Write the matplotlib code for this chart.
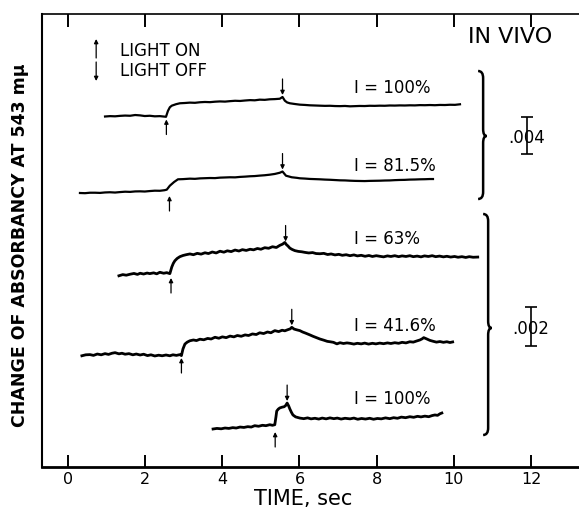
import numpy as np
import matplotlib
matplotlib.use("Agg")
import matplotlib.pyplot as plt
from matplotlib.path import Path
from matplotlib.patches import PathPatch

plt.rcParams["font.family"] = ["DejaVu Sans"]

# time (sec) and absorbance change (units of 1e-3)
t1 = [0.96, 1.09, 1.22, 1.35, 1.48, 1.61, 1.74, 1.87, 1.99, 2.12,
      2.25, 2.38, 2.54, 2.59, 2.64, 2.69, 2.80, 2.90, 3.03, 3.16,
      3.29, 3.42, 3.55, 3.68, 3.81, 3.94, 4.07, 4.20, 4.33, 4.46,
      4.59, 4.72, 4.84, 4.97, 5.10, 5.23, 5.36, 5.49, 5.56, 5.62,
      5.68, 5.75, 5.88, 6.01, 6.14, 6.27, 6.40, 6.53, 6.66, 6.79,
      6.92, 7.05, 7.18, 7.31, 7.44, 7.56, 7.69, 7.82, 7.95, 8.08,
      8.21, 8.34, 8.47, 8.60, 8.73, 8.86, 8.99, 9.12, 9.25, 9.38,
      9.51, 9.64, 9.77, 9.90, 10.03, 10.16]
a1 = [0.00, 0.04, 0.02, 0.07, 0.10, 0.08, 0.16, 0.12, 0.05, 0.08,
      0.02, 0.04, -0.03, 0.60, 1.00, 1.17, 1.33, 1.43, 1.46, 1.50,
      1.48, 1.54, 1.57, 1.55, 1.60, 1.63, 1.61, 1.66, 1.70, 1.68,
      1.73, 1.77, 1.75, 1.82, 1.80, 1.86, 1.88, 1.92, 2.11, 1.71,
      1.52, 1.43, 1.35, 1.28, 1.25, 1.21, 1.19, 1.17, 1.15, 1.16,
      1.13, 1.12, 1.14, 1.10, 1.12, 1.14, 1.13, 1.16, 1.15, 1.17,
      1.16, 1.19, 1.18, 1.20, 1.19, 1.21, 1.20, 1.23, 1.22, 1.24,
      1.22, 1.25, 1.24, 1.27, 1.26, 1.32]

t2 = [0.31, 0.44, 0.57, 0.70, 0.83, 0.96, 1.09, 1.22, 1.35, 1.48,
      1.61, 1.74, 1.87, 1.99, 2.12, 2.25, 2.38, 2.50, 2.56, 2.64,
      2.75, 2.85, 2.98, 3.16, 3.29, 3.42, 3.55, 3.68, 3.81, 3.94,
      4.07, 4.20, 4.33, 4.46, 4.59, 4.72, 4.84, 4.97, 5.10, 5.23,
      5.36, 5.49, 5.56, 5.65, 5.80, 5.93, 6.01, 6.14, 6.27, 6.40,
      6.53, 6.66, 6.79, 6.92, 7.05, 7.18, 7.31, 7.44, 7.56, 7.69,
      7.82, 7.95, 8.08, 8.21, 8.34, 8.47, 8.60, 8.73, 8.86, 8.99,
      9.12, 9.25, 9.38, 9.46]
a2 = [0.00, -0.02, 0.03, 0.03, 0.01, 0.06, 0.08, 0.05, 0.10, 0.14,
      0.12, 0.17, 0.18, 0.16, 0.21, 0.25, 0.24, 0.30, 0.36, 0.79,
      1.19, 1.48, 1.50, 1.55, 1.53, 1.58, 1.60, 1.62, 1.61, 1.66,
      1.68, 1.70, 1.69, 1.74, 1.77, 1.81, 1.83, 1.88, 1.92, 1.98,
      2.06, 2.19, 2.32, 1.87, 1.70, 1.64, 1.59, 1.56, 1.52, 1.50,
      1.48, 1.45, 1.43, 1.40, 1.37, 1.36, 1.33, 1.31, 1.30, 1.29,
      1.31, 1.32, 1.33, 1.35, 1.36, 1.39, 1.41, 1.42, 1.45, 1.46,
      1.48, 1.49, 1.51, 1.51]

t3 = [1.32, 1.42, 1.51, 1.61, 1.71, 1.80, 1.87, 1.96, 2.05, 2.12,
      2.22, 2.30, 2.38, 2.48, 2.56, 2.64, 2.69, 2.73, 2.77, 2.83,
      2.90, 2.98, 3.06, 3.16, 3.25, 3.35, 3.45, 3.55, 3.64, 3.74,
      3.84, 3.94, 4.04, 4.13, 4.23, 4.33, 4.43, 4.52, 4.62, 4.72,
      4.81, 4.91, 5.00, 5.10, 5.20, 5.30, 5.40, 5.49, 5.56, 5.62,
      5.66, 5.70, 5.75, 5.81, 5.88, 5.97, 6.06, 6.14, 6.24, 6.34,
      6.43, 6.53, 6.63, 6.73, 6.82, 6.92, 7.02, 7.11, 7.21, 7.31,
      7.41, 7.50, 7.60, 7.70, 7.80, 7.89, 7.99, 8.08, 8.18, 8.28,
      8.37, 8.47, 8.57, 8.66, 8.76, 8.86, 8.95, 9.05, 9.15, 9.24,
      9.34, 9.44, 9.53, 9.63, 9.73, 9.82, 9.92, 10.02, 10.11, 10.21,
      10.31, 10.40, 10.50, 10.62]
a3 = [-0.04, 0.02, -0.01, 0.04, 0.08, 0.03, 0.09, 0.05, 0.10, 0.07,
      0.11, 0.06, 0.14, 0.09, 0.12, 0.07, 0.41, 0.60, 0.73, 0.85,
      0.94, 1.00, 1.04, 1.08, 1.04, 1.11, 1.07, 1.14, 1.10, 1.18,
      1.13, 1.22, 1.17, 1.24, 1.20, 1.28, 1.23, 1.30, 1.26, 1.32,
      1.29, 1.36, 1.32, 1.40, 1.37, 1.45, 1.41, 1.52, 1.58, 1.67,
      1.56, 1.49, 1.38, 1.31, 1.25, 1.21, 1.19, 1.16, 1.13, 1.15,
      1.10, 1.09, 1.11, 1.05, 1.08, 1.03, 1.06, 1.01, 1.04, 0.99,
      1.03, 0.98, 1.01, 0.96, 1.00, 0.95, 0.99, 0.96, 0.93, 0.98,
      0.95, 0.99, 0.94, 0.98, 0.95, 0.99, 0.94, 0.97, 0.93, 0.98,
      0.95, 0.99, 0.94, 0.97, 0.93, 0.96, 0.92, 0.95, 0.91, 0.94,
      0.90, 0.94, 0.91, 0.92]

t4 = [0.36, 0.46, 0.57, 0.66, 0.76, 0.86, 0.96, 1.05, 1.14, 1.22,
      1.32, 1.40, 1.48, 1.58, 1.68, 1.77, 1.87, 1.96, 2.06, 2.15,
      2.25, 2.35, 2.44, 2.54, 2.64, 2.72, 2.81, 2.90, 2.94, 2.98,
      3.03, 3.09, 3.16, 3.25, 3.33, 3.42, 3.52, 3.62, 3.71, 3.81,
      3.91, 4.00, 4.10, 4.20, 4.30, 4.39, 4.49, 4.59, 4.68, 4.78,
      4.88, 4.97, 5.07, 5.17, 5.26, 5.36, 5.46, 5.55, 5.62, 5.70,
      5.76, 5.80, 5.86, 5.93, 6.01, 6.08, 6.16, 6.27, 6.35, 6.44,
      6.53, 6.63, 6.72, 6.79, 6.88, 6.97, 7.05, 7.14, 7.23, 7.31,
      7.41, 7.50, 7.60, 7.69, 7.79, 7.89, 7.98, 8.08, 8.18, 8.28,
      8.37, 8.47, 8.57, 8.66, 8.76, 8.86, 8.95, 9.04, 9.12, 9.18,
      9.22, 9.28, 9.38, 9.47, 9.55, 9.64, 9.73, 9.82, 9.90, 9.97]
a4 = [-0.04, 0.01, 0.02, -0.02, 0.05, 0.01, 0.07, 0.03, 0.09, 0.12,
      0.06, 0.09, 0.04, 0.07, 0.01, 0.05, 0.00, 0.04, -0.03, 0.01,
      -0.05, -0.01, -0.04, 0.00, -0.04, 0.01, -0.02, 0.02, -0.03, 0.31,
      0.56, 0.66, 0.73, 0.77, 0.74, 0.81, 0.78, 0.85, 0.82, 0.91,
      0.86, 0.93, 0.89, 0.97, 0.93, 1.00, 0.96, 1.03, 1.00, 1.08,
      1.05, 1.14, 1.10, 1.18, 1.14, 1.25, 1.20, 1.27, 1.24, 1.30,
      1.34, 1.42, 1.33, 1.29, 1.25, 1.18, 1.12, 1.03, 0.96, 0.89,
      0.82, 0.76, 0.70, 0.68, 0.65, 0.57, 0.63, 0.59, 0.62, 0.60,
      0.56, 0.60, 0.57, 0.61, 0.56, 0.60, 0.57, 0.61, 0.58, 0.62,
      0.59, 0.63, 0.60, 0.65, 0.62, 0.68, 0.66, 0.72, 0.77, 0.83,
      0.89, 0.84, 0.75, 0.70, 0.66, 0.69, 0.65, 0.68, 0.64, 0.67]

t5 = [3.76, 3.86, 3.97, 4.07, 4.17, 4.27, 4.36, 4.46, 4.56, 4.66,
      4.75, 4.84, 4.94, 5.04, 5.13, 5.23, 5.30, 5.36, 5.39, 5.41,
      5.45, 5.49, 5.55, 5.60, 5.64, 5.68, 5.72, 5.75, 5.79, 5.83,
      5.90, 6.01, 6.11, 6.21, 6.30, 6.40, 6.50, 6.59, 6.69, 6.79,
      6.89, 6.98, 7.08, 7.18, 7.31, 7.41, 7.51, 7.61, 7.71, 7.82,
      7.92, 8.02, 8.12, 8.23, 8.34, 8.44, 8.54, 8.64, 8.75, 8.86,
      8.96, 9.06, 9.15, 9.25, 9.35, 9.44, 9.51, 9.58, 9.64, 9.69]
a5 = [0.00, 0.03, 0.01, 0.05, 0.03, 0.07, 0.05, 0.10, 0.08, 0.12,
      0.10, 0.17, 0.14, 0.19, 0.17, 0.22, 0.19, 0.22, 0.62, 0.92,
      1.02, 1.08, 1.12, 1.14, 1.20, 1.33, 1.18, 1.03, 0.86, 0.72,
      0.62, 0.56, 0.53, 0.57, 0.52, 0.55, 0.51, 0.56, 0.52, 0.57,
      0.53, 0.56, 0.51, 0.55, 0.52, 0.56, 0.50, 0.54, 0.51, 0.55,
      0.50, 0.54, 0.52, 0.57, 0.53, 0.58, 0.55, 0.61, 0.58, 0.63,
      0.60, 0.65, 0.62, 0.66, 0.63, 0.69, 0.72, 0.70, 0.78, 0.82]

labels = ["I = 100%", "I = 81.5%", "I = 63%", "I = 41.6%", "I = 100%"]
light_on = [2.55, 2.63, 2.67, 2.94, 5.37]
light_off = [5.56, 5.56, 5.64, 5.80, 5.68]

# layout: chart height above the time axis (px) and pen scale (px per 0.001)
baseline = [350.5, 274, 192, 112, 38]
scale = [9.25, 9.25, 19.5, 19.5, 19.5]
label_y = [380, 302, 229, 142, 69]
pen_w = [1.6, 1.6, 2.0, 2.0, 2.0]

traces = [(t1, a1), (t2, a2), (t3, a3), (t4, a4), (t5, a5)]

fig = plt.figure(figsize=(5.79, 5.10), dpi=100)
ax = fig.add_axes([42 / 579, 42 / 510, 537 / 579, 453 / 510])
ax.set_xlim(-0.674, 13.245)
ax.set_ylim(0, 453)

arr = dict(arrowstyle="-|>", color="k", lw=0.9, mutation_scale=6,
           shrinkA=0, shrinkB=0)

for i, (t, a) in enumerate(traces):
    y = baseline[i] + np.array(a) * scale[i]
    ax.plot(t, y, color="k", lw=pen_w[i], solid_joinstyle="round")
    ax.text(7.42, label_y[i], labels[i], fontsize=12, va="center", ha="left")
    # light on: arrow from below
    ytip = baseline[i] - 3
    ax.annotate("", xy=(light_on[i], ytip), xytext=(light_on[i], ytip - 15),
                arrowprops=arr)
    # light off: arrow from above
    ypk = np.interp(light_off[i], t, y) + 2
    ax.annotate("", xy=(light_off[i], ypk), xytext=(light_off[i], ypk + 16),
                arrowprops=arr)

# legend for the arrows
ax.annotate("", xy=(0.73, 428), xytext=(0.73, 409), arrowprops=arr)
ax.annotate("", xy=(0.73, 386), xytext=(0.73, 405), arrowprops=arr)
ax.text(1.35, 417, "LIGHT ON", fontsize=12, va="center", ha="left")
ax.text(1.35, 397, "LIGHT OFF", fontsize=12, va="center", ha="left")

ax.text(11.45, 431, "IN VIVO", fontsize=16, va="center", ha="center")


def brace(x, y0, y1, ym, hook=0.13, tip=0.09, h=7):
    verts = [(x - hook, y1), (x, y1), (x, y1 - h),
             (x, ym + h), (x, ym), (x + tip, ym),
             (x, ym), (x, ym - h),
             (x, y0 + h), (x, y0), (x - hook, y0)]
    codes = [Path.MOVETO, Path.CURVE3, Path.CURVE3,
             Path.LINETO, Path.CURVE3, Path.CURVE3,
             Path.CURVE3, Path.CURVE3,
             Path.LINETO, Path.CURVE3, Path.CURVE3]
    ax.add_patch(PathPatch(Path(verts, codes), fill=False, lw=1.8, color="k"))


brace(10.76, 268, 396, 331)
brace(10.89, 32, 253, 139)

# scale bars
ax.errorbar([11.90], [331.5], yerr=[[2 * scale[0]], [2 * scale[0]]], fmt="none",
            ecolor="k", elinewidth=1.2, capsize=4, capthick=1.2)
ax.text(11.88, 330, ".004", fontsize=12, ha="center", va="center")
ax.errorbar([12.0], [140.5], yerr=[[1 * scale[2]], [1 * scale[2]]], fmt="none",
            ecolor="k", elinewidth=1.2, capsize=4, capthick=1.2)
ax.text(11.98, 139, ".002", fontsize=12, ha="center", va="center")

ax.set_xticks(range(0, 13, 2))
ax.set_yticks([])
ax.tick_params(axis="x", direction="in", length=9, width=1.4, top=True,
               labelsize=11.5, pad=3)
ax.spines["right"].set_visible(False)
ax.spines["bottom"].set_linewidth(2.0)
ax.spines["left"].set_linewidth(1.5)
ax.spines["top"].set_linewidth(1.2)

fig.text(303 / 579, 5 / 510, "TIME, sec", fontsize=15, ha="center", va="baseline")
fig.text(20 / 579, (510 - 245) / 510, "CHANGE OF ABSORBANCY AT 543 m\u03bc",
         fontsize=12.5, fontweight="bold", rotation=90, ha="center", va="center")

fig.savefig("out.png", dpi=100)
